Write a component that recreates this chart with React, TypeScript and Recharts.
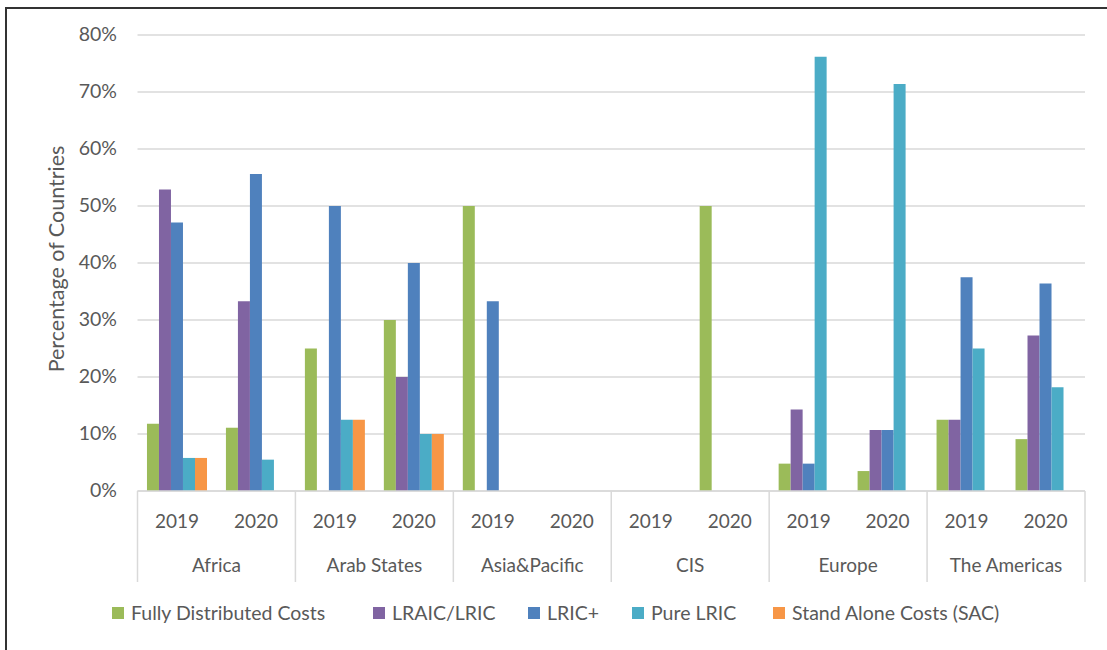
import React from 'react';
import { BarChart, Bar, XAxis, YAxis, CartesianGrid, Legend } from 'recharts';

const regions = ['Africa', 'Arab States', 'Asia&Pacific', 'CIS', 'Europe', 'The Americas'];
const years = ['2019', '2020'];
const yTicks = [0, 10, 20, 30, 40, 50, 60, 70, 80];

const seriesNames = ['Fully Distributed Costs', 'LRAIC/LRIC', 'LRIC+', 'Pure LRIC', 'Stand Alone Costs (SAC)'];
const fdc = [11.8, 11.1, 25, 30, 50, 0, 0, 50, 4.8, 3.5, 12.5, 9.1];
const lraic = [52.9, 33.3, 0, 20, 0, 0, 0, 0, 14.3, 10.7, 12.5, 27.3];
const lricPlus = [47.1, 55.6, 50, 40, 33.3, 0, 0, 0, 4.8, 10.7, 37.5, 36.4];
const pureLric = [5.8, 5.5, 12.5, 10, 0, 0, 0, 0, 76.2, 71.4, 25, 18.2];
const sac = [5.8, 0, 12.5, 10, 0, 0, 0, 0, 0, 0, 0, 0];

const colors = ['#9BBB59', '#8064A2', '#4F81BD', '#4BACC6', '#F79646'];
const keys = ['fdc', 'lraic', 'lricPlus', 'pureLric', 'sac'];
const seriesValues = [fdc, lraic, lricPlus, pureLric, sac];

const data = regions.flatMap((region, r) =>
  years.map((year, y) => {
    const i = r * years.length + y;
    const row: Record<string, any> = { cat: `${region} ${year}`, region, year };
    keys.forEach((k, s) => {
      row[k] = seriesValues[s][i];
    });
    return row;
  })
);

const W = 1107;
const H = 650;
const PLOT_LEFT = 137.5;
const PLOT_RIGHT = 1085;
const PLOT_TOP = 35;
const PLOT_BOTTOM = 491;
const XAXIS_H = 95;
const LEGEND_H = 30;
const BAND = (PLOT_RIGHT - PLOT_LEFT) / data.length;
const FONT = 'Lato, "Open Sans", sans-serif';
const TEXT = '#595959';
const LINE = '#d9d9d9';

const XTick = (props: any) => {
  const { x, payload } = props;
  const i = payload.index;
  const row = data[i];
  return (
    <g>
      <text x={x} y={528} textAnchor="middle" fill={TEXT} fontSize={19} fontFamily={FONT}>
        {row.year}
      </text>
      {i % 2 === 0 && (
        <text x={x + BAND / 2} y={572} textAnchor="middle" fill={TEXT} fontSize={19} fontFamily={FONT}>
          {row.region}
        </text>
      )}
      {i % 2 === 0 && (
        <line x1={x - BAND / 2} x2={x - BAND / 2} y1={PLOT_BOTTOM} y2={582} stroke={LINE} strokeWidth={1.5} />
      )}
      {i === data.length - 1 && (
        <line x1={x + BAND / 2} x2={x + BAND / 2} y1={PLOT_BOTTOM} y2={582} stroke={LINE} strokeWidth={1.5} />
      )}
    </g>
  );
};

const YTick = (props: any) => {
  const { y, payload } = props;
  return (
    <text x={117} y={y} dy={6} textAnchor="end" fill={TEXT} fontSize={19.5} fontFamily={FONT}>
      {`${payload.value}%`}
    </text>
  );
};

const YLabel = () => (
  <text
    x={64}
    y={(PLOT_TOP + PLOT_BOTTOM) / 2 - 4}
    transform={`rotate(-90 64 ${(PLOT_TOP + PLOT_BOTTOM) / 2 - 4})`}
    textAnchor="middle"
    fill={TEXT}
    fontSize={21.5}
    fontFamily={FONT}
  >
    Percentage of Countries
  </text>
);

const legendLefts = [112, 373, 528, 632, 773];

const LegendContent = () => (
  <div style={{ position: 'relative', width: W, height: LEGEND_H }}>
    {seriesNames.map((name, s) => (
      <div
        key={name}
        style={{
          position: 'absolute',
          left: legendLefts[s],
          top: 0,
          display: 'flex',
          alignItems: 'center',
          whiteSpace: 'nowrap',
        }}
      >
        <span style={{ display: 'inline-block', width: 12, height: 12, background: colors[s], marginRight: 7 }} />
        <span style={{ color: TEXT, fontSize: 19.5, fontFamily: FONT, lineHeight: '26px' }}>{name}</span>
      </div>
    ))}
  </div>
);

export default function App() {
  return (
    <div style={{ position: 'absolute', left: 0, top: 0, width: W, height: H, background: '#fff', overflow: 'hidden' }}>
      <div
        style={{
          position: 'absolute',
          left: 5,
          top: 7,
          width: W + 10,
          height: H + 10,
          borderTop: '2px solid #333',
          borderLeft: '2px solid #333',
          boxSizing: 'border-box',
        }}
      />
      <div style={{ position: 'absolute', left: 0, top: 0 }}>
        <BarChart
          width={W}
          height={H}
          data={data}
          margin={{ top: PLOT_TOP, right: W - PLOT_RIGHT, bottom: H - PLOT_BOTTOM - XAXIS_H - LEGEND_H, left: 0 }}
          barGap={0}
          barCategoryGap="12%"
        >
          <CartesianGrid vertical={false} stroke={LINE} strokeWidth={1.5} />
          <XAxis
            dataKey="cat"
            interval={0}
            height={XAXIS_H}
            tickLine={false}
            axisLine={{ stroke: LINE, strokeWidth: 1.5 }}
            tick={<XTick />}
          />
          <YAxis
            width={PLOT_LEFT}
            domain={[0, 80]}
            ticks={yTicks}
            axisLine={false}
            tickLine={false}
            tick={<YTick />}
            label={<YLabel />}
          />
          <Legend
            content={<LegendContent />}
            wrapperStyle={{ position: 'absolute', left: 0, top: 600, width: W, height: LEGEND_H }}
          />
          {keys.map((k, s) => (
            <Bar key={k} dataKey={k} name={seriesNames[s]} fill={colors[s]} isAnimationActive={false} />
          ))}
        </BarChart>
      </div>
    </div>
  );
}
